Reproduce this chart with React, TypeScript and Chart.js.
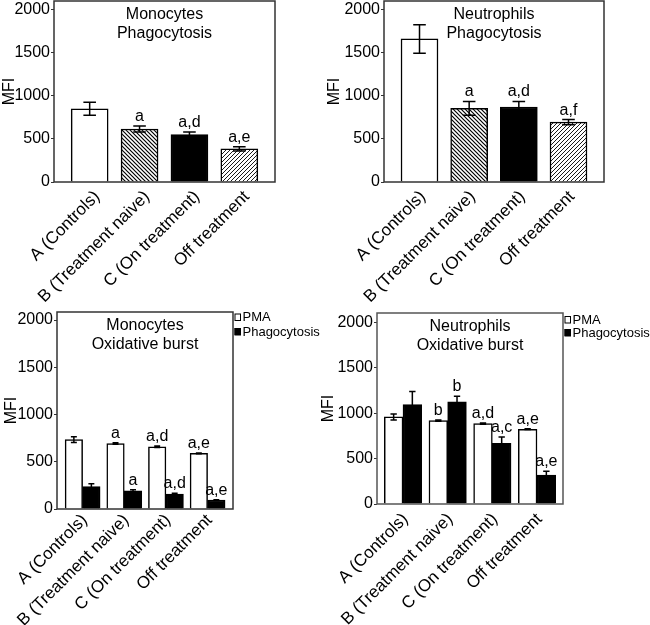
import React, { useEffect, useRef } from 'react';
import { Chart, registerables } from 'chart.js';
Chart.register(...registerables);

const FONT = '"Liberation Sans", Arial, Helvetica, sans-serif';
Chart.defaults.font.family = FONT;

const categories = ['A (Controls)', 'B (Treatment naive)', 'C (On treatment)', 'Off treatment'];
const yTicks = [0, 500, 1000, 1500, 2000];
const seriesLabels = ['PMA', 'Phagocytosis'];

// Monocytes phagocytosis
const monoPhagMean = [850, 615, 550, 385];
const monoPhagErr = [75, 35, 30, 25];
const monoPhagSig = ['', 'a', 'a,d', 'a,e'];

// Neutrophils phagocytosis
const neutPhagMean = [1660, 855, 870, 695];
const neutPhagErr = [165, 80, 65, 30];
const neutPhagSig = ['', 'a', 'a,d', 'a,f'];

// Monocytes oxidative burst
const monoOxPMA = [735, 693, 659, 588];
const monoOxPMAErr = [30, 8, 8, 4];
const monoOxPMASig = ['', 'a', 'a,d', 'a,e'];
const monoOxPhag = [236, 193, 158, 95];
const monoOxPhagErr = [30, 10, 8, 4];
const monoOxPhagSig = ['', 'a', 'a,d', 'a,e'];

// Neutrophils oxidative burst
const neutOxPMA = [960, 919, 886, 824];
const neutOxPMAErr = [33, 8, 6, 4];
const neutOxPMASig = ['', 'b', 'a,d', 'a,e'];
const neutOxPhag = [1095, 1125, 669, 318];
const neutOxPhagErr = [145, 62, 70, 42];
const neutOxPhagSig = ['', 'b', 'a,c', 'a,e'];

function hatch(dir: 'back' | 'fwd', lw: number) {
  const p = 4;
  const c = document.createElement('canvas');
  c.width = p; c.height = p;
  const g = c.getContext('2d')!;
  g.fillStyle = '#fff'; g.fillRect(0, 0, p, p);
  g.strokeStyle = '#000'; g.lineWidth = lw;
  g.beginPath();
  if (dir === 'back') {
    g.moveTo(-1, -1); g.lineTo(p + 1, p + 1);
    g.moveTo(-1, p - 1); g.lineTo(1, p + 1);
    g.moveTo(p - 1, -1); g.lineTo(p + 1, 1);
  } else {
    g.moveTo(-1, p + 1); g.lineTo(p + 1, -1);
    g.moveTo(-1, 1); g.lineTo(1, -1);
    g.moveTo(p - 1, p + 1); g.lineTo(p + 1, p - 1);
  }
  g.stroke();
  return g.createPattern(c, 'repeat') as CanvasPattern;
}

const toXY = (arr: number[]) => arr.map((v, i) => ({ x: i, y: v }));

type PanelDef = {
  title: string[];
  pad: { left: number; right: number; top: number; bottom: number };
  yWidth: number;
  yMax: number;
  xMin: number;
  xMax: number;
  labelDx: number;
  labelDy: number;
  legend: boolean;
  legendY: number[];
  frameColor: string;
  build: () => any[];
};

const panels: PanelDef[] = [
  {
    title: ['Monocytes', 'Phagocytosis'],
    pad: { left: 0, right: 375, top: 1, bottom: 443 },
    yWidth: 54, yMax: 2100, xMin: -0.715, xMax: 3.715,
    labelDx: 7.5, labelDy: 12, legend: false, legendY: [], frameColor: '#333',
    build: () => [{
      data: toXY(monoPhagMean), errors: monoPhagErr, sig: monoPhagSig,
      backgroundColor: ['#fff', hatch('back', 1.2), '#000', hatch('fwd', 0.9)],
      borderColor: '#000', borderWidth: 1.5, barThickness: 37,
    }],
  },
  {
    title: ['Neutrophils', 'Phagocytosis'],
    pad: { left: 325, right: 46, top: 1, bottom: 443 },
    yWidth: 59, yMax: 2100, xMin: -0.715, xMax: 3.715,
    labelDx: 3.5, labelDy: 12, legend: false, legendY: [], frameColor: '#333',
    build: () => [{
      data: toXY(neutPhagMean), errors: neutPhagErr, sig: neutPhagSig,
      backgroundColor: ['#fff', hatch('back', 1.2), '#000', hatch('fwd', 0.9)],
      borderColor: '#000', borderWidth: 1.5, barThickness: 37,
    }],
  },
  {
    title: ['Monocytes', 'Oxidative burst'],
    pad: { left: 2, right: 417, top: 312, bottom: 116 },
    yWidth: 55, yMax: 2085, xMin: -0.615, xMax: 3.61,
    labelDx: 2, labelDy: 8.5, legend: true, legendY: [5, 19.5], frameColor: '#333',
    build: () => [
      { label: seriesLabels[0], data: toXY(monoOxPMA), errors: monoOxPMAErr, sig: monoOxPMASig,
        backgroundColor: '#fff', borderColor: '#000', borderWidth: 1.5, barThickness: 17.5 },
      { label: seriesLabels[1], data: toXY(monoOxPhag), errors: monoOxPhagErr, sig: monoOxPhagSig,
        backgroundColor: '#000', borderColor: '#000', borderWidth: 1.5, barThickness: 17.5 },
    ],
  },
  {
    title: ['Neutrophils', 'Oxidative burst'],
    pad: { left: 319, right: 87, top: 313, bottom: 121 },
    yWidth: 58, yMax: 2105, xMin: -0.582, xMax: 3.582,
    labelDx: 2.5, labelDy: 12.5, legend: true, legendY: [6.5, 19.5], frameColor: '#555',
    build: () => [
      { label: seriesLabels[0], data: toXY(neutOxPMA), errors: neutOxPMAErr, sig: neutOxPMASig,
        backgroundColor: '#fff', borderColor: '#000', borderWidth: 1.5, barThickness: 18.7 },
      { label: seriesLabels[1], data: toXY(neutOxPhag), errors: neutOxPhagErr, sig: neutOxPhagSig,
        backgroundColor: '#000', borderColor: '#000', borderWidth: 1.5, barThickness: 18.7 },
    ],
  },
];

function makeDecor(p: PanelDef) {
  return {
    id: 'decor',
    afterDatasetsDraw(chart: any) {
      const ctx: CanvasRenderingContext2D = chart.ctx;
      const ca = chart.chartArea;
      const ys = chart.scales.y;
      const xs = chart.scales.x;
      ctx.save();
      // error bars + significance letters
      chart.data.datasets.forEach((ds: any, di: number) => {
        const meta = chart.getDatasetMeta(di);
        meta.data.forEach((bar: any, i: number) => {
          const v = ds.data[i].y;
          const e = ds.errors[i];
          const x = bar.x;
          const cap = bar.width * 0.17;
          const yt = ys.getPixelForValue(v + e);
          const yb = ys.getPixelForValue(v - e);
          ctx.strokeStyle = '#000';
          ctx.lineWidth = 1.5;
          ctx.beginPath();
          ctx.moveTo(x, yt); ctx.lineTo(x, yb);
          ctx.moveTo(x - cap, yt); ctx.lineTo(x + cap, yt);
          ctx.moveTo(x - cap, yb); ctx.lineTo(x + cap, yb);
          ctx.stroke();
          const s = ds.sig[i];
          if (s) {
            ctx.fillStyle = '#000';
            ctx.font = `16px ${FONT}`;
            ctx.textAlign = 'center';
            ctx.textBaseline = 'alphabetic';
            ctx.fillText(s, x, yt - 5);
          }
        });
      });
      // frame
      ctx.strokeStyle = p.frameColor;
      ctx.lineWidth = 1.5;
      ctx.strokeRect(ca.left, ca.top, ca.right - ca.left, ca.bottom - ca.top);
      // in-plot title
      ctx.fillStyle = '#000';
      ctx.font = `16px ${FONT}`;
      ctx.textAlign = 'center';
      ctx.textBaseline = 'alphabetic';
      const cx = (ca.left + ca.right) / 2;
      p.title.forEach((t, i) => ctx.fillText(t, cx, ca.top + 17.5 + i * 19.5));
      // rotated category labels
      categories.forEach((c, i) => {
        const x = xs.getPixelForValue(i) + p.labelDx;
        const y = ca.bottom + p.labelDy;
        ctx.save();
        ctx.translate(x, y);
        ctx.rotate(-Math.PI / 4);
        ctx.textAlign = 'right';
        ctx.textBaseline = 'middle';
        ctx.font = `17px ${FONT}`;
        ctx.fillText(c, 0, 0);
        ctx.restore();
      });
      // legend
      if (p.legend) {
        chart.data.datasets.forEach((ds: any, di: number) => {
          const yc = ca.top + p.legendY[di];
          const x0 = ca.right + 1.5;
          ctx.fillStyle = ds.backgroundColor;
          ctx.fillRect(x0, yc - 3.5, 6, 7);
          ctx.strokeStyle = '#000';
          ctx.lineWidth = 1;
          ctx.strokeRect(x0 + 0.5, yc - 3, 5.5, 6.5);
          ctx.fillStyle = '#000';
          ctx.font = `13px ${FONT}`;
          ctx.textAlign = 'left';
          ctx.textBaseline = 'middle';
          ctx.fillText(ds.label, x0 + 8, yc + 0.5);
        });
      }
      ctx.restore();
    },
  };
}

function Panel({ p }: { p: PanelDef }) {
  const ref = useRef<HTMLCanvasElement>(null);
  useEffect(() => {
    const chart = new Chart(ref.current!, {
      type: 'bar',
      data: { datasets: p.build() as any },
      options: {
        animation: false,
        responsive: false,
        devicePixelRatio: 1,
        layout: { autoPadding: false, padding: p.pad },
        plugins: { legend: { display: false }, tooltip: { enabled: false }, title: { display: false } },
        scales: {
          x: { type: 'linear', display: false, min: p.xMin, max: p.xMax, offset: false },
          y: {
            type: 'linear',
            min: 0,
            max: p.yMax,
            afterBuildTicks: (s: any) => { s.ticks = yTicks.map((v) => ({ value: v })); },
            afterFit: (s: any) => { s.width = p.yWidth; s.paddingTop = 0; s.paddingBottom = 0; },
            border: { display: false },
            grid: { drawOnChartArea: false, drawTicks: true, tickLength: 3, color: '#333', lineWidth: 1 },
            ticks: { color: '#000', font: { size: 16 }, padding: 1, callback: (v: any) => String(v) },
            title: { display: true, text: 'MFI', color: '#000', font: { size: 16 }, padding: 0 },
          },
        },
      } as any,
      plugins: [makeDecor(p)],
    });
    return () => chart.destroy();
  }, [p]);
  return <canvas ref={ref} width={650} height={625} style={{ position: 'absolute', left: 0, top: 0 }} />;
}

export default function App() {
  return (
    <div style={{ position: 'absolute', left: 0, top: 0, width: 650, height: 625, background: '#fff', overflow: 'hidden' }}>
      {panels.map((p, i) => <Panel key={i} p={p} />)}
    </div>
  );
}
